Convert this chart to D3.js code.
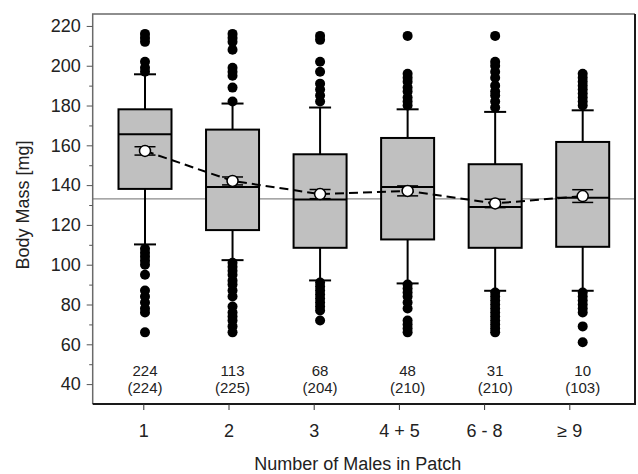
<!DOCTYPE html>
<html>
<head>
<meta charset="utf-8">
<script src="https://cdn.jsdelivr.net/npm/d3@7"></script>
<style>
  body { margin: 0; background: #fff; }
  svg { display: block; }
  svg text { font-family: "Liberation Sans", Arial, sans-serif; }
</style>
</head>
<body>
<div class="chart"></div>
<script>
(function() {
  // values
  var categories = ['1', '2', '3', '4 + 5', '6 - 8', '\u2265 9'];
  var nPatches = ['224', '113', '68', '48', '31', '10'];
  var nFemales = ['(224)', '(225)', '(204)', '(210)', '(210)', '(103)'];
  var q1 = [138.1, 117.4, 108.5, 112.7, 108.5, 109];
  var medians = [165.6, 139.1, 132.8, 139.1, 129, 133.6];
  var q3 = [178.1, 167.9, 155.5, 163.7, 150.5, 161.7];
  var whiskerLow = [110.2, 102.3, 92.1, 90.6, 86.9, 86.9];
  var whiskerHigh = [195.7, 181, 179, 178.1, 176.8, 177.6];
  var means = [157.2, 142.1, 135.5, 137.1, 130.8, 134.5];
  var sems = [2.1, 2.0, 2.3, 2.5, 2.1, 3.2];
  var outliers = [
    [216, 214, 212, 202, 199, 197, 108, 106, 104, 102, 100, 95, 87, 84, 81, 78, 76, 66],
    [216, 214, 212, 208, 199, 197, 195, 189, 182, 101, 99, 97, 95, 92, 90, 87, 84, 79, 76, 74, 72, 69, 66],
    [215, 213, 202, 197, 191, 188, 185, 182, 91, 89, 87, 85, 83, 81, 79, 77, 72],
    [215, 196, 194, 192, 189, 187, 184, 182, 180, 90, 88, 86, 84, 81, 78, 72, 70, 68, 66],
    [215, 202, 200, 197, 194, 190, 187, 185, 182, 179, 86, 84, 82, 80, 78, 76, 74, 72, 70, 68, 66],
    [196, 194, 192, 190, 188, 186, 184, 182, 180, 86, 84, 82, 80, 78, 76, 69, 61]
  ];
  var overallMean = 133.1;
  var yTicks = [40, 60, 80, 100, 120, 140, 160, 180, 200, 220];
  var yMinorTicks = [50, 70, 90, 110, 130, 150, 170, 190, 210];

  var opts = { width: 638, height: 474, left: 92.7, right: 635, top: 14, bottom: 404 };

  var svg = d3.select('.chart').append('svg')
    .attr('width', opts.width)
    .attr('height', opts.height);

  var y = d3.scaleLinear().domain([30, 226]).range([opts.bottom, opts.top]);
  // boxes and tick marks sit on slightly different spacings in the original
  var xBox = d3.scalePoint().domain(categories).range([145, 582.7]);
  var xTick = d3.scalePoint().domain(categories).range([143.3, 569.3]);

  var boxes = categories.map(function(c, i) {
    return { cat: c, q1: q1[i], med: medians[i], q3: q3[i], lo: whiskerLow[i], hi: whiskerHigh[i],
             mean: means[i], sem: sems[i], out: outliers[i], n: nPatches[i], nf: nFemales[i] };
  });

  var boxW = 53, capW = 22, semW = 21;

  // overall mean reference line
  svg.append('line')
    .attr('x1', opts.left).attr('x2', opts.right)
    .attr('y1', y(overallMean)).attr('y2', y(overallMean))
    .style('stroke', '#8a8a8a').style('stroke-width', 1.2);

  var g = svg.selectAll('.box').data(boxes)
    .enter().append('g')
      .attr('class', 'box')
      .attr('transform', function(d) { return 'translate(' + xBox(d.cat) + ',0)'; });

  // whiskers
  g.append('line')
    .attr('y1', function(d) { return y(d.hi); })
    .attr('y2', function(d) { return y(d.lo); })
    .style('stroke', '#000').style('stroke-width', 2);
  g.selectAll('.cap').data(function(d) { return [d.hi, d.lo]; })
    .enter().append('line')
      .attr('class', 'cap')
      .attr('x1', -capW / 2).attr('x2', capW / 2)
      .attr('y1', function(v) { return y(v); })
      .attr('y2', function(v) { return y(v); })
      .style('stroke', '#000').style('stroke-width', 2);

  g.append('rect')
    .attr('x', -boxW / 2)
    .attr('width', boxW)
    .attr('y', function(d) { return y(d.q3); })
    .attr('height', function(d) { return y(d.q1) - y(d.q3); })
    .style('fill', '#c0c0c0')
    .style('stroke', '#000').style('stroke-width', 2);

  g.append('line')
    .attr('x1', -boxW / 2).attr('x2', boxW / 2)
    .attr('y1', function(d) { return y(d.med); })
    .attr('y2', function(d) { return y(d.med); })
    .style('stroke', '#000').style('stroke-width', 2);

  g.selectAll('.out').data(function(d) { return d.out; })
    .enter().append('circle')
      .attr('class', 'out')
      .attr('cy', function(v) { return y(v); })
      .attr('r', 5)
      .style('fill', '#000');

  // sample size labels
  g.append('text')
    .attr('y', 376)
    .attr('text-anchor', 'middle')
    .style('font-size', '15px').style('fill', '#222')
    .text(function(d) { return d.n; });
  g.append('text')
    .attr('y', 393)
    .attr('text-anchor', 'middle')
    .style('font-size', '15px').style('fill', '#222')
    .text(function(d) { return d.nf; });

  // mean +- se
  g.selectAll('.sem').data(function(d) { return [d.mean + d.sem, d.mean - d.sem]; })
    .enter().append('line')
      .attr('class', 'sem')
      .attr('x1', -semW / 2).attr('x2', semW / 2)
      .attr('y1', function(v) { return y(v); })
      .attr('y2', function(v) { return y(v); })
      .style('stroke', '#000').style('stroke-width', 1.5);
  g.append('line')
    .attr('y1', function(d) { return y(d.mean + d.sem); })
    .attr('y2', function(d) { return y(d.mean - d.sem); })
    .style('stroke', '#000').style('stroke-width', 1.5);

  var meanLine = d3.line()
    .x(function(d) { return xBox(d.cat); })
    .y(function(d) { return y(d.mean); });

  svg.append('path')
    .datum(boxes)
    .attr('d', meanLine)
    .style('fill', 'none')
    .style('stroke', '#000')
    .style('stroke-width', 2)
    .style('stroke-dasharray', '9,5');

  svg.selectAll('.mean').data(boxes)
    .enter().append('circle')
      .attr('class', 'mean')
      .attr('cx', function(d) { return xBox(d.cat); })
      .attr('cy', function(d) { return y(d.mean); })
      .attr('r', 5.5)
      .style('fill', '#fff')
      .style('stroke', '#000').style('stroke-width', 1.5);

  // frame
  svg.append('path')
    .attr('d', 'M' + opts.left + ',' + opts.bottom + 'V' + opts.top + 'H' + opts.right)
    .style('fill', 'none').style('stroke', '#6a6a6a').style('stroke-width', 1.5);
  svg.append('path')
    .attr('d', 'M' + opts.right + ',' + opts.top + 'V' + opts.bottom + 'H' + opts.left)
    .style('fill', 'none').style('stroke', '#1a1a1a').style('stroke-width', 2);

  // axes
  var yAxis = svg.append('g')
    .attr('transform', 'translate(' + opts.left + ',0)')
    .call(d3.axisLeft(y).tickValues(yTicks).tickSize(6).tickPadding(6).tickFormat(d3.format('d')));
  yAxis.select('.domain').remove();
  yAxis.selectAll('line').style('stroke', '#555');
  yAxis.selectAll('text').style('font-size', '18px').style('fill', '#222');

  var yMinor = svg.append('g')
    .attr('transform', 'translate(' + opts.left + ',0)')
    .call(d3.axisLeft(y).tickValues(yMinorTicks).tickSize(3.5).tickFormat(''));
  yMinor.select('.domain').remove();
  yMinor.selectAll('line').style('stroke', '#555');

  var xAxis = svg.append('g')
    .attr('transform', 'translate(0,' + opts.bottom + ')')
    .call(d3.axisBottom(xTick).tickSize(6).tickPadding(14));
  xAxis.select('.domain').remove();
  xAxis.selectAll('line').style('stroke', '#333');
  xAxis.selectAll('text').style('font-size', '18px').style('fill', '#222');

  svg.append('text')
    .attr('x', (opts.left + opts.right) / 2 - 6)
    .attr('y', 470)
    .attr('text-anchor', 'middle')
    .style('font-size', '18px').style('fill', '#222')
    .text('Number of Males in Patch');

  svg.append('text')
    .attr('transform', 'translate(29,205) rotate(-90)')
    .attr('text-anchor', 'middle')
    .style('font-size', '18px').style('fill', '#222')
    .text('Body Mass [mg]');
})();
</script>
</body>
</html>
